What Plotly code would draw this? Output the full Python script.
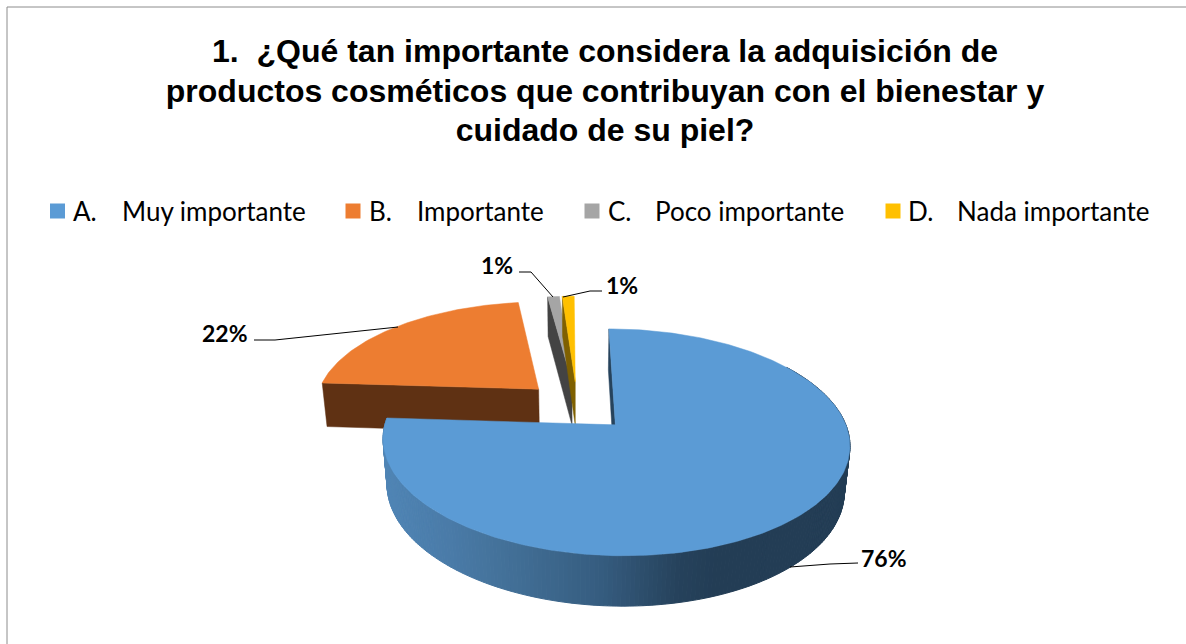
import numpy as np
import plotly.graph_objects as go

# Chart content
title_lines = [
    "1.  ¿Qué tan importante considera la adquisición de",
    "productos cosméticos que contribuyan con el bienestar y",
    "cuidado de su piel?",
]
letters = ["A.", "B.", "C.", "D."]
categories = ["Muy importante", "Importante", "Poco importante", "Nada importante"]
values = [76, 22, 1, 1]
value_labels = ["76%", "22%", "1%", "1%"]
top_colors = ["#5B9BD5", "#ED7D31", "#A5A5A5", "#FFC000"]
cut_colors = ["#26435C", "#5F3113", "#434343", "#7F6000"]

# Legend layout: swatch centre, letter left edge, name left edge
legend_swatch_x = [57.5, 353, 592, 893]
legend_letter_x = [71, 367, 606, 906]
legend_name_x = [120, 415, 653, 955]

# Value label anchors and their leader lines
label_pos = [(884, 558), (225, 333), (497, 265), (622, 285)]
leader_x = [[790, 830, 858], [398, 275, 254], [553, 531, 519], [563, 590, 602]]
leader_y = [[567, 564, 563], [327, 340, 340], [297, 272, 272], [297, 291, 291]]

# Perspective pie geometry, in page pixels
CX, CY = 577.2, 406.0
RX, RY = 224.5, 105.0
DEPTH = 45.5
EXPLODE = 0.24
PERSP_Y, PERSP_Z = 0.15, 0.02
SHEAR = -1.5

# Shading of the outer wall of the large slice, by horizontal position
wall_x = [385, 450, 500, 600, 680, 720, 850]
wall_rgb = np.array([
    [80, 133, 181], [74, 123, 168], [68, 114, 154],
    [54, 93, 128], [38, 66, 92], [35, 61, 85], [35, 61, 85],
], dtype=float)


def project(px, py, z=0.0):
    s = 1.0 / (1.0 + PERSP_Y * py + PERSP_Z * z)
    return CX + (RX * px + SHEAR * py) * s, CY + (-RY * py + DEPTH * z) * s


def slice_points(t0, t1, mid, n):
    """Plane coordinates of the rim of an exploded slice, plus its apex."""
    t = np.linspace(t0, t1, n)
    ox, oy = EXPLODE * np.sin(mid), EXPLODE * np.cos(mid)
    return ox + np.sin(t), oy + np.cos(t), ox, oy


def polygon(x, y, color, name=None, width=0.5):
    return go.Scatter(
        x=list(x), y=list(y), mode="lines", fill="toself", fillcolor=color,
        line=dict(color=color, width=width), hoverinfo="skip",
        showlegend=False, name=name,
    )


fig = go.Figure()

edges = np.concatenate([[0], np.cumsum(values)]) / np.sum(values) * 2 * np.pi
# Back slices first, the large slice overlaps them
for i in [1, 2, 3, 0]:
    t0, t1 = edges[i], edges[i + 1]
    mid = (t0 + t1) / 2
    n = max(8, int((t1 - t0) * 60))
    rx, ry, ox, oy = slice_points(t0, t1, mid, n)

    # Cut face along the starting radius
    xa, ya = project(ox, oy)
    xab, yab = project(ox, oy, 1)
    xr, yr = project(rx[0], ry[0])
    xrb, yrb = project(rx[0], ry[0], 1)
    fig.add_trace(polygon([xr, xa, xab, xrb, xr], [yr, ya, yab, yrb, yr], cut_colors[i]))

    # Outer wall, shaded strip by strip
    if i == 0:
        for j in range(n - 1):
            if t0 + (t1 - t0) * j / (n - 1) < np.radians(55):
                continue
            xs0, ys0 = project(rx[j : j + 2], ry[j : j + 2])
            xs1, ys1 = project(rx[j : j + 2], ry[j : j + 2], 1)
            xm = float(np.mean(xs0))
            rgb = [np.interp(xm, wall_x, wall_rgb[:, c]) for c in range(3)]
            col = "rgb(%d,%d,%d)" % tuple(rgb)
            fig.add_trace(polygon(
                [xs0[0], xs0[1], xs1[1], xs1[0], xs0[0]],
                [ys0[0], ys0[1], ys1[1], ys1[0], ys0[0]], col, width=1,
            ))

    # Top face
    xt, yt = project(rx, ry)
    fig.add_trace(polygon(
        np.r_[xa, xt, xa], np.r_[ya, yt, ya], top_colors[i],
        name=f"{letters[i]} {categories[i]}",
    ))

# Leader lines
for lx, ly in zip(leader_x, leader_y):
    fig.add_trace(go.Scatter(
        x=lx, y=ly, mode="lines", line=dict(color="#000000", width=1),
        hoverinfo="skip", showlegend=False,
    ))

# Legend swatches
fig.add_trace(go.Scatter(
    x=legend_swatch_x, y=[211] * 4, mode="markers",
    marker=dict(symbol="square", size=15, color=top_colors, line=dict(width=0)),
    hoverinfo="skip", showlegend=False,
))

annotations = []
LEGEND_FONT = dict(family="Lato", size=26, color="#000000")
for lx, nx, letter, name in zip(legend_letter_x, legend_name_x, letters, categories):
    for px, txt in ((lx, letter), (nx, name)):
        annotations.append(dict(
            x=px, y=211, xref="x", yref="y", text=txt, showarrow=False,
            xanchor="left", yanchor="middle", font=LEGEND_FONT,
        ))
for (px, py), txt in zip(label_pos, value_labels):
    annotations.append(dict(
        x=px, y=py, xref="x", yref="y", text=txt, showarrow=False,
        font=dict(family="Lato", size=23, color="#000000", weight="bold"),
    ))

# The line pitch follows the base size, the glyphs use the span size
title_text = "<br>".join(f'<span style="font-size:32px">{t}</span>' for t in title_lines)

fig.update_layout(
    width=1186, height=644, autosize=False,
    margin=dict(l=0, r=0, t=0, b=0),
    paper_bgcolor="#FFFFFF", plot_bgcolor="#FFFFFF",
    showlegend=False,
    title=dict(
        text=title_text, x=605 / 1186, xanchor="center",
        y=1 - 62 / 644, yanchor="top",
        font=dict(family="Liberation Sans", size=30.4, color="#000000", weight="bold"),
    ),
    xaxis=dict(range=[0, 1186], visible=False, fixedrange=True),
    yaxis=dict(range=[644, 0], visible=False, fixedrange=True),
    annotations=annotations,
    shapes=[dict(
        type="rect", x0=7, y0=7, x1=1300, y1=700, xref="x", yref="y",
        line=dict(color="#8C8C8C", width=1), layer="below",
    )],
)

fig.write_html("out.html")
